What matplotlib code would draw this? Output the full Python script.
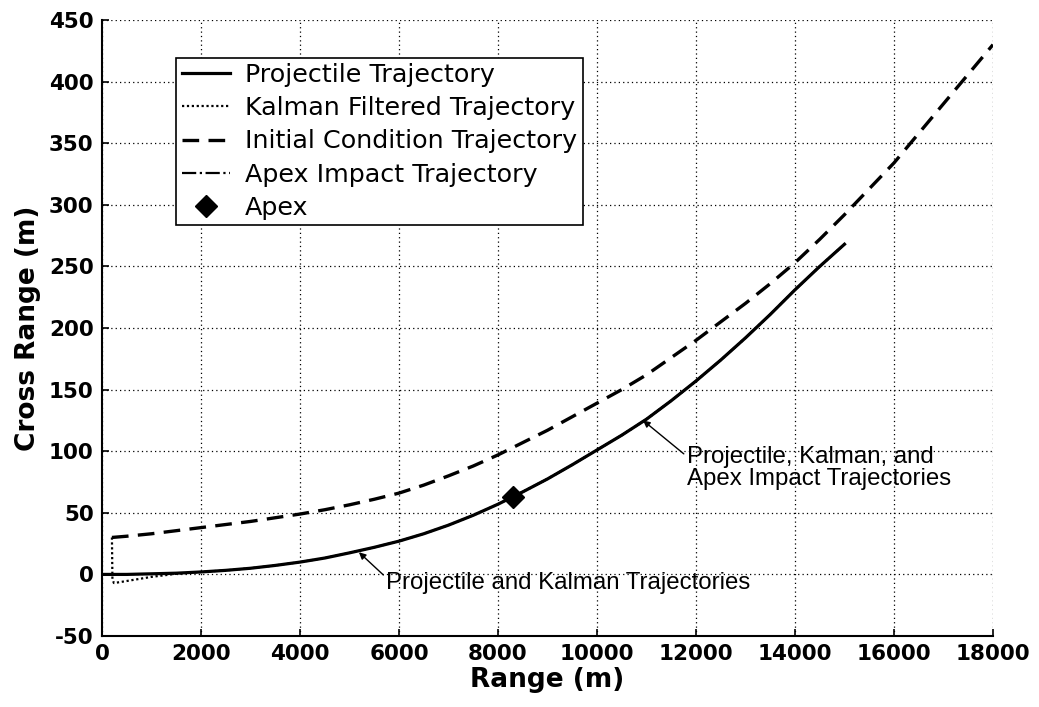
import matplotlib
matplotlib.use("Agg")
import matplotlib.pyplot as plt
import numpy as np

plt.rcParams["axes.unicode_minus"] = False

# projectile trajectory (range, cross range) in metres
proj_x = [0, 500, 1000, 1500, 2000, 2500, 3000, 3500, 4000, 4500, 5000, 5500, 6000, 6500, 7000, 7500,
          8000, 8300, 8500, 9000, 9500, 10000, 10500, 11000, 11500, 12000, 12500, 13000, 13500, 14000,
          14500, 15000]
proj_y = [0, 0, 0.5, 1, 2, 3.3, 5, 7.3, 10, 13.3, 17.5, 22, 27, 33, 40, 48,
          57, 63, 67, 77.5, 89, 101, 113, 126, 141, 157, 174, 192, 211, 231,
          250, 268]

# kalman filtered estimate: starts at initial condition, converges to projectile
kalman_x = [200, 210, 240, 400, 700, 1000, 1500, 2000, 2500, 3000, 3500, 4000, 4500, 5000, 5500, 6000,
            6500, 7000, 7500, 8000, 8300, 8500, 9000, 9500, 10000, 10500, 11000, 11500, 12000, 12500,
            13000, 13500, 14000, 14500, 15000]
kalman_y = [30, -4, -7, -6, -4, -2, 0.5, 2, 3.3, 5, 7.3, 10, 13.3, 17.5, 22, 27,
            33, 40, 48, 57, 63, 67, 77.5, 89, 101, 113, 126, 141, 157, 174,
            192, 211, 231, 250, 268]

# initial condition trajectory
init_x = [200, 500, 1000, 1500, 2000, 2500, 3000, 3500, 4000, 4500, 5000, 5500, 6000, 6500, 7000, 7500,
          8000, 8500, 9000, 9500, 10000, 10500, 11000, 11500, 12000, 12500, 13000, 13500, 14000, 14500,
          15000, 15500, 16000, 16500, 17000, 17500, 18000]
init_y = [30, 31, 33, 35.5, 38, 40.5, 43, 46, 49, 52.5, 56.5, 61, 66, 72.5, 80, 88,
          97, 107, 117, 128, 139, 150, 162, 176, 190, 205, 220, 236, 253, 272,
          292, 313, 334, 358, 382, 406, 430]

# apex impact trajectory (from apex to impact)
apex_traj_x = [8300, 8500, 9000, 9500, 10000, 10500, 11000, 11500, 12000, 12500, 13000, 13500, 14000,
               14500, 15000]
apex_traj_y = [63, 67, 77.5, 89, 101, 113, 126, 141, 157, 174, 192, 211, 231, 250, 268]

apex_x = [8300]
apex_y = [63]

fig = plt.figure(figsize=(10.39, 7.07), dpi=100)
ax = fig.add_axes([0.0982, 0.1004, 0.8575, 0.8713])

ax.plot(proj_x, proj_y, color="black", linewidth=2.3, label="Projectile Trajectory", zorder=4)
ax.plot(kalman_x, kalman_y, color="black", linewidth=1.6, linestyle=(0, (1, 1.2)),
        label="Kalman Filtered Trajectory", zorder=3)
ax.plot(init_x, init_y, color="black", linewidth=2.4, linestyle=(0, (5, 2.8)),
        label="Initial Condition Trajectory", zorder=3)
ax.plot(apex_traj_x, apex_traj_y, color="black", linewidth=1.6, linestyle="-.",
        label="Apex Impact Trajectory", zorder=2)
ax.plot(apex_x, apex_y, linestyle="none", marker="D", markersize=11, color="black",
        label="Apex", zorder=5)

ax.set_xlim(0, 18000)
ax.set_ylim(-50, 450)
ax.set_xticks(np.arange(0, 18001, 2000))
ax.set_yticks(np.arange(-50, 451, 50))

ax.grid(True, color="black", linestyle=(0, (1, 2.5)), linewidth=0.9)
ax.spines["top"].set_visible(False)
ax.spines["right"].set_visible(False)
ax.spines["left"].set_linewidth(1.5)
ax.spines["bottom"].set_linewidth(1.5)
ax.tick_params(direction="in", length=5, width=1.2, labelsize=15.5, pad=6)
for label in ax.get_xticklabels() + ax.get_yticklabels():
    label.set_fontweight("bold")

ax.set_xlabel("Range (m)", fontsize=19, fontweight="bold", labelpad=2)
ax.set_ylabel("Cross Range (m)", fontsize=19, fontweight="bold", labelpad=6)

legend = ax.legend(loc="upper left", bbox_to_anchor=(0.083, 0.939), borderaxespad=0,
                   fancybox=False, edgecolor="black", framealpha=1, fontsize=18.3,
                   handlelength=1.9, handletextpad=0.6, labelspacing=0.36, borderpad=0.22)
legend.get_frame().set_linewidth(1.2)

ax.annotate("Projectile and Kalman Trajectories", xy=(5190, 18), xytext=(5740, -7),
            fontsize=17.3, family="Liberation Sans", va="center", ha="left",
            arrowprops={"arrowstyle": "-|>", "color": "black", "lw": 1.0, "mutation_scale": 10,
                        "shrinkA": 0, "shrinkB": 0, "relpos": (0, 0.75)})
ax.annotate("Projectile, Kalman, and\nApex Impact Trajectories", xy=(10930, 125), xytext=(11810, 86),
            fontsize=17.3, family="Liberation Sans", va="center", ha="left", linespacing=1.0,
            arrowprops={"arrowstyle": "-|>", "color": "black", "lw": 1.0, "mutation_scale": 10,
                        "shrinkA": 0, "shrinkB": 0, "relpos": (0, 0.78)})

fig.savefig("out.png", dpi=100)
